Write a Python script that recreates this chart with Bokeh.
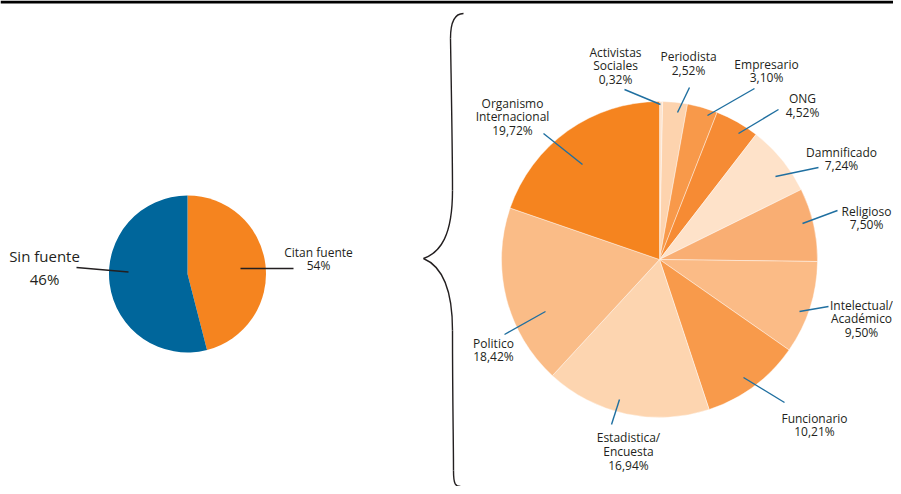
import math
from bokeh.plotting import figure
from bokeh.models import ColumnDataSource, Range1d
from bokeh.core.properties import value
from bokeh.embed import file_html
from bokeh.resources import INLINE

# ---------------- data ----------------
# left pie (drawn shares, clockwise from 12 o'clock) and its printed labels
fuente_share = [46, 54]
fuente_colors = ["#f5841f", "#00669b"]
citan_label = "Citan fuente\n54%"
sin_label_name = "Sin fuente"
sin_label_pct = "46%"

# right pie, clockwise from 12 o'clock
tipo_fuente = ["Activistas\nSociales", "Periodista", "Empresario", "ONG", "Damnificado",
               "Religioso", "Intelectual/\nAcadémico", "Funcionario",
               "Estadistica/\nEncuesta", "Politico", "Organismo\nInternacional"]
tipo_pct = [0.32, 2.52, 3.10, 4.52, 7.24, 7.50, 9.50, 10.21, 16.94, 18.42, 19.72]
tipo_colors = ["#fde4cf", "#fdd3ae", "#f8994a", "#f68b34", "#fee2c9", "#f9ae73",
               "#fbbb86", "#f89a4b", "#fdd5b0", "#fabc87", "#f5841f"]

# ---------------- layout helpers (screen px -> data) ----------------
W, H = 893, 486
def X(sx):
    return sx
def Y(sy):
    return H - sy

p = figure(width=W, height=H, x_range=Range1d(0, W), y_range=Range1d(0, H),
           output_backend="svg", toolbar_location=None, min_border=0,
           background_fill_color="white", border_fill_color="white")
p.axis.visible = False
p.grid.visible = False
p.outline_line_color = None

def pie_angles(vals):
    tot = float(sum(vals))
    starts, ends = [], []
    c = 0.0
    for v in vals:
        a0 = math.pi / 2 - 2 * math.pi * c / tot
        c += v
        a1 = math.pi / 2 - 2 * math.pi * c / tot
        starts.append(a1)
        ends.append(a0)
    return starts, ends

LH = 0.8

# top rule
p.line([0, W], [Y(1.5), Y(1.5)], line_color="black", line_width=3)

# ---------------- left pie ----------------
s, e = pie_angles(fuente_share)
src_l = ColumnDataSource(dict(x=[X(187)] * 2, y=[Y(273.5)] * 2, s=s, e=e, c=fuente_colors))
p.wedge(x="x", y="y", radius=78.5, start_angle="s", end_angle="e",
        fill_color="c", line_color=None, source=src_l)

# left leader lines
p.segment(x0=[X(240), X(76)], y0=[Y(268), Y(267)], x1=[X(293), X(128)], y1=[Y(268), Y(271.5)],
          line_color="#231f20", line_width=1.4)
p.text(x=[X(318)], y=[Y(258.5)], text=[citan_label], text_align="center",
       text_baseline="middle", text_font=value("Open Sans"), text_font_size="12px",
       text_line_height=LH, text_color="#231f20")
p.text(x=[X(44)], y=[Y(255)], text=[sin_label_name], text_align="center",
       text_baseline="middle", text_font=value("Open Sans"), text_font_size="15px",
       text_color="#231f20")
p.text(x=[X(44)], y=[Y(278)], text=[sin_label_pct], text_align="center",
       text_baseline="middle", text_font=value("Open Sans"), text_font_size="15px",
       text_color="#231f20")

# ---------------- right pie ----------------
s, e = pie_angles(tipo_pct)
n = len(tipo_pct)
src_r = ColumnDataSource(dict(x=[X(659)] * n, y=[Y(259)] * n, s=s, e=e, c=tipo_colors))
p.wedge(x="x", y="y", radius=158, start_angle="s", end_angle="e",
        fill_color="c", line_color="white", line_width=0.6, line_alpha=0.7, source=src_r)

# label positions (screen px): text centre, leader line outer and inner points
lab_xy = [(615, 65.5), (688, 63), (766, 70.5), (802, 105), (841, 158.5), (866, 217.5),
          (861, 318.5), (814, 424.5), (628, 451), (493, 349.5), (512, 116.5)]
lead = [((624, 89), (660, 104)), ((689, 87), (677, 112)), ((754, 88), (707, 115)),
        ((778, 109), (738, 133)), ((818, 167), (775, 176)), ((837, 210), (802, 223)),
        ((828, 306), (799, 311)), ((784, 402), (743, 377)), ((611, 424), (619, 399)),
        ((504, 334), (545, 311)), ((543, 133), (582, 164))]

def fmt(v):
    return ("%.2f" % v).replace(".", ",") + "%"

labels = [f"{t}\n{fmt(v)}" for t, v in zip(tipo_fuente, tipo_pct)]
p.segment(x0=[X(a[0]) for a, b in lead], y0=[Y(a[1]) for a, b in lead],
          x1=[X(b[0]) for a, b in lead], y1=[Y(b[1]) for a, b in lead],
          line_color="#1f6fa0", line_width=1.4)
p.text(x=[X(a) for a, b in lab_xy], y=[Y(b) for a, b in lab_xy], text=labels,
       text_align="center", text_baseline="middle", text_font=value("Open Sans"),
       text_font_size="12px", text_line_height=LH, text_color="#231f20")

# ---------------- curly brace ----------------
bz = [((463, 13), (454, 13), (450, 22), (450, 38)),
      ((450, 38), (451, 100), (452, 150), (452, 190)),
      ((452, 190), (452, 235), (440, 252), (423, 258)),
      ((423, 258), (442, 266), (452, 290), (452, 330)),
      ((452, 330), (452, 400), (453, 440), (453, 470)),
      ((453, 470), (453, 484), (455, 486), (460, 486))]
p.bezier(x0=[X(b[0][0]) for b in bz], y0=[Y(b[0][1]) for b in bz],
         cx0=[X(b[1][0]) for b in bz], cy0=[Y(b[1][1]) for b in bz],
         cx1=[X(b[2][0]) for b in bz], cy1=[Y(b[2][1]) for b in bz],
         x1=[X(b[3][0]) for b in bz], y1=[Y(b[3][1]) for b in bz],
         line_color="#231f20", line_width=1.4)

open("out.html", "w").write(file_html(p, INLINE))
